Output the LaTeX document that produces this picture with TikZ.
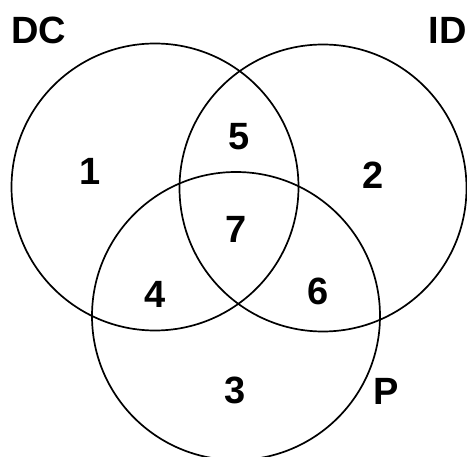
\documentclass[tikz,border=0pt]{standalone}
\usepackage{fontspec}
\setmainfont{Liberation Sans}
\begin{document}
\begin{tikzpicture}[x=1pt,y=-1pt,
  ring/.style={circle,draw,line width=1.7pt,inner sep=0pt},
  lbl/.style={font=\fontsize{38}{40}\selectfont\bfseries,inner sep=0pt}]
\useasboundingbox (0,0) rectangle (467,457);
\clip (0,0) rectangle (467,457);
\node[ring,minimum size=287pt] (dc) at (155,187) {};
\node[ring,minimum size=287pt] (id) at (323,188) {};
\node[ring,minimum size=288pt] (p) at (236,316) {};
\node[lbl,anchor=west] (tdc) at (11,30) {DC};
\node[lbl,anchor=east] (tid) at (467,30) {ID};
\node[lbl] (tp) at (386,391) {P};
\node[lbl] (n1) at (90,171) {1};
\node[lbl] (n2) at (373,175) {2};
\node[lbl] (n3) at (235,390) {3};
\node[lbl] (n4) at (155,294) {4};
\node[lbl] (n5) at (239,137) {5};
\node[lbl] (n6) at (318,291) {6};
\node[lbl] (n7) at (236,229) {7};
\end{tikzpicture}
\end{document}
